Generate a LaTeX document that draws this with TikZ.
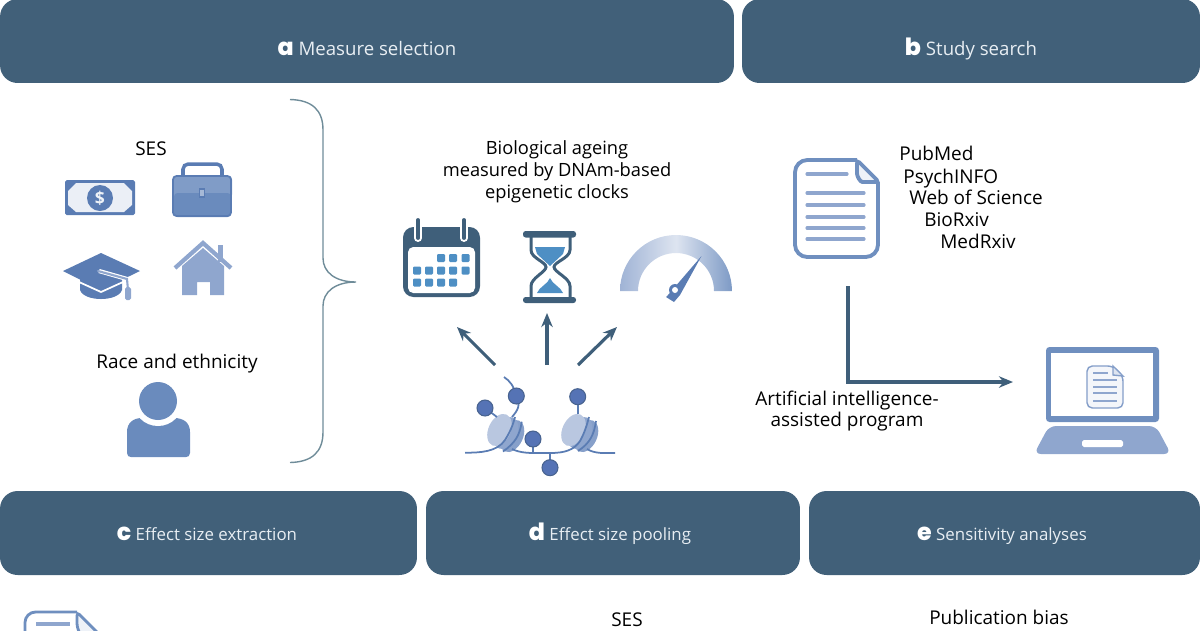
\documentclass[tikz,border=0pt]{standalone}
\usepackage{fontspec}
\setmainfont{Open Sans}
\newfontfamily\letterfont{Poppins ExtraBold}
\usepackage{xcolor}
\usetikzlibrary{arrows.meta,calc,positioning}
\definecolor{hdrblue}{HTML}{416079}
\definecolor{hdrtext}{HTML}{E8EEF3}
\definecolor{darkblue}{HTML}{3F5F7A}
\definecolor{midblue}{HTML}{6A8BBD}
\definecolor{edgeblue}{HTML}{5A7CB3}
\definecolor{lineblue}{HTML}{6F8FBF}
\definecolor{paleblue}{HTML}{8FA6CE}
\definecolor{skyblue}{HTML}{4E8FC4}
\definecolor{bracegrey}{HTML}{6F8C99}
\definecolor{dotblue}{HTML}{5573B5}
\definecolor{coreblue}{HTML}{B9C7E0}
\tikzset{
	hdr/.style={fill=hdrblue, rounded corners=10pt, inner sep=0pt, text=hdrtext},
	hdrtitle/.style={text=hdrtext, anchor=base, inner sep=0pt},
	bigtitle/.style={hdrtitle, font=\fontsize{10.6}{12}\selectfont},
	smalltitle/.style={hdrtitle, font=\fontsize{9.6}{12}\selectfont},
	txt/.style={font=\fontsize{10.8}{12.5}\selectfont, text=black, inner sep=0pt, align=center},
	arrowline/.style={line width=1.8pt, draw=darkblue, -{Stealth[length=8pt,width=6.5pt]}},
}
\newcommand{\hdrletter}[1]{\textcolor{white}{\fontsize{13.5}{14}\letterfont #1}}
\begin{document}
\begin{tikzpicture}[x=0.02cm,y=-0.02cm]
	\useasboundingbox (0,0) rectangle (1200,630);
	\clip (0,0) rectangle (1200,630);
	% header bars
	\node [hdr, minimum width=14.68cm, minimum height=1.68cm] (boxa) at (367,41) {};
	\node [hdr, minimum width=9.16cm, minimum height=1.68cm] (boxb) at (971,41) {};
	\node [hdr, minimum width=8.34cm, minimum height=1.68cm] (boxc) at (208.5,533) {};
	\node [hdr, minimum width=7.48cm, minimum height=1.68cm] (boxd) at (613,533) {};
	\node [hdr, minimum width=7.82cm, minimum height=1.68cm] (boxe) at (1004.5,533) {};
	\node [bigtitle] (titlea) at (367,55.5) {\hdrletter{a} Measure selection};
	\node [bigtitle] (titleb) at (971,55.5) {\hdrletter{b} Study search};
	\node [smalltitle] (titlec) at (207,540.5) {\hdrletter{c} Effect size extraction};
	\node [smalltitle] (titled) at (610,540.5) {\hdrletter{d} Effect size pooling};
	\node [smalltitle] (titlee) at (1002,540.5) {\hdrletter{e} Sensitivity analyses};
	% panel a, left
	\node [txt] (ses) at (151,149) {SES};
	\node [txt] (race) at (177,364) {Race and ethnicity};
	% money
	\fill [edgeblue, rounded corners=1pt] (65,180) rectangle (135,215);
	\fill [white!88!edgeblue] (76,183) -- (124,183) -- (132,191) -- (132,205) -- (124,212) -- (76,212) -- (68,205) -- (68,191) -- cycle;
	\fill [edgeblue] (100,198) circle (13);
	\node [font=\fontsize{10}{10}\selectfont\bfseries, text=white!90!edgeblue, inner sep=0pt] (dollar) at (100,198) {\$};
	% briefcase
	\draw [line width=2pt, edgeblue, rounded corners=3pt] (183,177) -- (183,164) -- (222,164) -- (222,177);
	\fill [midblue!85!white, rounded corners=2pt] (173,176) rectangle (232,198);
	\fill [midblue, rounded corners=2pt] (174,193) rectangle (231,217);
	\draw [line width=1pt, edgeblue, rounded corners=2pt] (173,176) rectangle (231,216);
	\draw [line width=0.8pt, edgeblue, fill=midblue!60!white] (199.5,189) rectangle (204.5,197);
	% cap
	\fill [edgeblue] (80,278) -- (80,290) .. controls (84,302) and (118,302) .. (122,290) -- (122,278) -- cycle;
	\draw [line width=1pt, white] (79,282) -- (101,292) -- (123,282);
	\fill [edgeblue] (63,271) -- (101,253) -- (140,271) -- (101,290) -- cycle;
	\draw [line width=2.4pt, white] (99,271) -- (127,279);
	\draw [line width=1.2pt, paleblue, line cap=round] (98,271) -- (127,279) -- (128,290);
	\fill [paleblue, rounded corners=1pt] (125,287) rectangle (131,300);
	% house
	\fill [paleblue] (218,245) rectangle (223,262);
	\fill [paleblue] (182,295) -- (182,266) -- (203,248) -- (224,266) -- (224,295) -- (210,295) -- (210,282) -- (197,282) -- (197,295) -- cycle;
	\draw [line width=2.4pt, paleblue] (175,268) -- (203,243) -- (231,268);
	% person
	\fill [midblue] (127,453) -- (127,432) .. controls (127,423) and (133,418) .. (142,418) -- (174,418) .. controls (184,418) and (190,423) .. (190,432) -- (190,453) .. controls (190,456) and (188,457) .. (186,457) -- (131,457) .. controls (129,457) and (127,456) .. (127,453) -- cycle;
	\fill [white] (158,401) circle (25);
	\fill [midblue] (158,401) circle (19);
	% brace
	\draw [line width=0.8pt, bracegrey] (290,99.5) .. controls (312,100) and (323,110) .. (323,130) -- (323,258) .. controls (323,272) and (335,282) .. (356,282) .. controls (335,282) and (323,292) .. (323,306) -- (323,432) .. controls (323,452) and (312,462) .. (290,462.5);
	% panel a, middle
	\node [txt, font=\fontsize{10.4}{12.5}\selectfont] (clocks) at (557,172) {Biological ageing\\measured by DNAm-based\\epigenetic clocks};
	% calendar
	\fill [darkblue, rounded corners=6pt] (403,227) rectangle (480,297);
	\fill [white, rounded corners=3pt] (408,247) rectangle (475,293);
	\draw [line width=4.5pt, white, line cap=round] (418,221) -- (418,238);
	\draw [line width=4.5pt, white, line cap=round] (464,221) -- (464,238);
	\draw [line width=2.2pt, darkblue, line cap=round] (418,220) -- (418,238);
	\draw [line width=2.2pt, darkblue, line cap=round] (464,220) -- (464,238);
	\fill [skyblue, rounded corners=0.6pt] (437,254) rectangle +(8,8) (449,254) rectangle +(8,8) (461.5,254) rectangle +(8,8);
	\fill [skyblue, rounded corners=0.6pt] (413,266.5) rectangle +(8,8) (425,266.5) rectangle +(8,8) (437,266.5) rectangle +(8,8) (449,266.5) rectangle +(8,8) (461.5,266.5) rectangle +(8,8);
	\fill [skyblue, rounded corners=0.6pt] (413,278.5) rectangle +(8,8) (425,278.5) rectangle +(8,8) (437,278.5) rectangle +(8,8) (449,278.5) rectangle +(8,8);
	% hourglass
	\fill [skyblue] (535,247) -- (565,247) -- (563,254) -- (550,266) -- (537,254) -- cycle;
	\fill [skyblue] (537,293) .. controls (539,287) and (548,284) .. (550,278) .. controls (552,284) and (561,287) .. (563,293) -- cycle;
	\draw [line width=1.7pt, darkblue] (531,236) -- (531,250) .. controls (531,258) and (546,262) .. (546,267) .. controls (546,272) and (531,278) .. (531,286) -- (531,298);
	\draw [line width=1.7pt, darkblue] (570,236) -- (570,250) .. controls (570,258) and (554,262) .. (554,267) .. controls (554,272) and (570,278) .. (570,286) -- (570,298);
	\fill [darkblue, rounded corners=1.5pt] (523,231) rectangle (576,237.5);
	\fill [darkblue, rounded corners=1.5pt] (523,297) rectangle (576,303);
	% gauge
	\shade [left color=paleblue!85!white, right color=lineblue!90!white, middle color=paleblue!30!white] (620,291) arc [start angle=180, end angle=0, radius=1.12cm] -- (714,291) arc [start angle=0, end angle=180, radius=0.76cm] -- cycle;
	\fill [edgeblue] (668,295) -- (701.5,256) -- (680,295) -- (674,302) -- (666,297) -- cycle;
	\fill [edgeblue] (675,290) circle (6);
	\fill [white] (675,290) circle (3);
	% arrows up from the dna
	\coordinate (dnaleft) at (495,365);
	\coordinate (dnamid) at (547,365);
	\coordinate (dnaright) at (578,365);
	\coordinate (calendar) at (457,327);
	\coordinate (hourglass) at (547,313);
	\coordinate (gauge) at (617,327);
	\draw [arrowline] (dnaleft) -- (calendar);
	\draw [arrowline] (dnamid) -- (hourglass);
	\draw [arrowline] (dnaright) -- (gauge);
	% nucleosomes
	\fill [paleblue!85!edgeblue, rotate around={-25:(512,436)}] (512,436) ellipse [x radius=11, y radius=17];
	\fill [paleblue, rotate around={-25:(506,433)}] (506,433) ellipse [x radius=11, y radius=17];
	\fill [coreblue, rotate around={-25:(499.5,430)}] (499.5,430) ellipse [x radius=11, y radius=17];
	\fill [paleblue!85!edgeblue, rotate around={-25:(586,436)}] (586,436) ellipse [x radius=11, y radius=17];
	\fill [paleblue, rotate around={-25:(580,433)}] (580,433) ellipse [x radius=11, y radius=17];
	\fill [coreblue, rotate around={-25:(573.5,430)}] (573.5,430) ellipse [x radius=11, y radius=17];
	% dna strand
	\draw [line width=1pt, edgeblue] (465,452.7) .. controls (480,452.7) and (497,452) .. (505,440) .. controls (510,432) and (513,425) .. (515,417);
	\draw [line width=1pt, edgeblue] (503,451.5) .. controls (515,443) and (520,435) .. (521.7,421.7);
	\draw [line width=1pt, edgeblue] (512,449) .. controls (520,453) and (530,453) .. (535,453) -- (550,453) .. controls (565,453) and (574,450) .. (580,441) .. controls (584,434) and (587,425) .. (589,417);
	\draw [line width=1pt, edgeblue] (578,451) .. controls (590,443) and (594,435) .. (596,421);
	\draw [line width=1pt, edgeblue] (587,449) .. controls (595,454) and (605,453) .. (615,453);
	\draw [line width=1pt, edgeblue] (504,377) .. controls (510,381) and (514,386) .. (516,396) .. controls (521,405) and (518,410) .. (512,417);
	\draw [line width=1pt, edgeblue] (485,408) -- (497,417);
	\draw [line width=1pt, edgeblue] (578,397) -- (578,414);
	\draw [line width=1pt, edgeblue] (533,439) -- (533,453);
	\draw [line width=1pt, edgeblue] (550,453) -- (550,467);
	\draw [line width=0.6pt, edgeblue!80!black, fill=dotblue] (485,408) circle (8);
	\draw [line width=0.6pt, edgeblue!80!black, fill=dotblue] (516.3,396) circle (8);
	\draw [line width=0.6pt, edgeblue!80!black, fill=dotblue] (577.7,396.7) circle (8);
	\draw [line width=0.6pt, edgeblue!80!black, fill=dotblue] (533,439) circle (8);
	\draw [line width=0.6pt, edgeblue!80!black, fill=dotblue] (550,467.7) circle (8);
	% panel b
	\draw [line width=2.2pt, lineblue, rounded corners=7pt] (857,160) -- (795,160) -- (795,257) -- (878,257) -- (878,182);
	\draw [line width=2.2pt, lineblue, fill=white!85!paleblue, rounded corners=2pt] (857,160) -- (879,182) -- (866,182) .. controls (860,182) and (857,176) .. (857,170) -- cycle;
	\draw [line width=1.8pt, paleblue, line cap=round] (807,174) -- (847,174);
	\draw [line width=1.8pt, paleblue, line cap=round] (807,193) -- (864,193);
	\draw [line width=1.8pt, paleblue, line cap=round] (807,205) -- (864,205);
	\draw [line width=1.8pt, paleblue, line cap=round] (807,217) -- (864,217);
	\draw [line width=1.8pt, paleblue, line cap=round] (807,228) -- (864,228);
	\draw [line width=1.8pt, paleblue, line cap=round] (807,239) -- (864,239);
	\node [txt, anchor=west] (pubmed) at (899,153) {PubMed};
	\node [txt, anchor=west] (psychinfo) at (903,178.5) {PsychINFO};
	\node [txt, anchor=west] (wos) at (909,197) {Web of Science};
	\node [txt, anchor=west] (biorxiv) at (924,220) {BioRxiv};
	\node [txt, anchor=west] (medrxiv) at (940,241) {MedRxiv};
	\coordinate (search) at (848,286);
	\coordinate (corner) at (848,382);
	\coordinate (laptop) at (1013,382);
	\draw [arrowline] (search) -- (corner) -- (laptop);
	\node [txt] (aiprogram) at (847,411) {Artificial intelligence-\\assisted program};
	% laptop
	\fill [lineblue, rounded corners=2pt] (1046,347) rectangle (1159,422);
	\fill [white] (1051,353) rectangle (1153,416);
	\fill [paleblue, rounded corners=4pt] (1049,426) -- (1156,426) -- (1171,454) -- (1034,454) -- cycle;
	\fill [white, rounded corners=1pt] (1082,440) rectangle (1123,447);
	\draw [line width=0.8pt, paleblue!80!edgeblue, fill=white!90!paleblue, rounded corners=3pt] (1113,366) -- (1087,366) -- (1087,408) -- (1123,408) -- (1123,376) -- cycle;
	\draw [line width=0.8pt, paleblue!80!edgeblue, fill=white!70!paleblue] (1113,366) -- (1123,376) -- (1113,375) -- cycle;
	\draw [line width=0.6pt, paleblue] (1093,373) -- (1108,373);
	\draw [line width=0.6pt, paleblue] (1093,380) -- (1117,380);
	\draw [line width=0.6pt, paleblue] (1093,387) -- (1117,387);
	\draw [line width=0.6pt, paleblue] (1093,393) -- (1117,393);
	\draw [line width=0.6pt, paleblue] (1093,401) -- (1117,401);
	% panels c, d, e: what shows above the page edge
	\draw [line width=1.6pt, lineblue, rounded corners=6pt] (77,612) -- (25,612) -- (25,640);
	\draw [line width=1.6pt, lineblue, fill=white!85!paleblue, rounded corners=2pt] (77,612) -- (100,635) -- (85,635) .. controls (80,635) and (77,628) .. (77,620) -- cycle;
	\draw [line width=1.8pt, paleblue] (36,624) -- (70,624);
	\node [txt] (sespool) at (627,620) {SES};
	\node [txt] (pubbias) at (999,617) {Publication bias};
\end{tikzpicture}
\end{document}
